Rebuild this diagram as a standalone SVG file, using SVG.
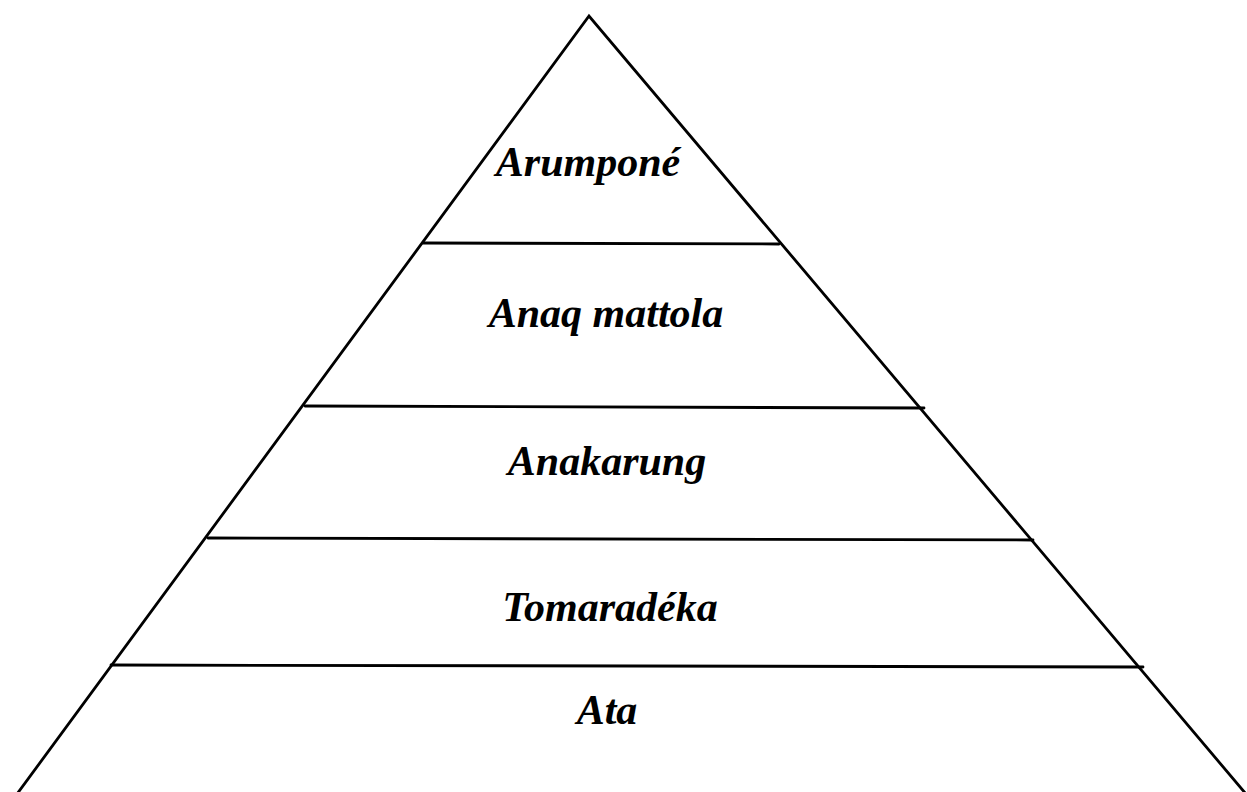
<svg xmlns="http://www.w3.org/2000/svg" width="1247" height="792" viewBox="0 0 1247 792">
<style>
.edge{stroke:#000;stroke-width:2.8;fill:none;stroke-linecap:round}
.lbl{font-family:"Liberation Serif","Times New Roman",serif;font-weight:bold;font-style:italic;font-size:42px;fill:#000;text-anchor:middle}
</style>
<rect width="1247" height="792" fill="#fff"/>
<g id="connectors">
<polyline class="edge" points="17,794 589,16 1246,794"/>
<line class="edge" x1="423" y1="243" x2="779" y2="244"/>
<line class="edge" x1="305" y1="406" x2="924" y2="408"/>
<line class="edge" x1="208" y1="538" x2="1033" y2="540"/>
<line class="edge" x1="111" y1="665" x2="1143" y2="667"/>
</g>
<g id="level1"><text class="lbl" x="588" y="176">Arumponé</text></g>
<g id="level2"><text class="lbl" x="606" y="327">Anaq mattola</text></g>
<g id="level3"><text class="lbl" x="607" y="475">Anakarung</text></g>
<g id="level4"><text class="lbl" x="610" y="621">Tomaradéka</text></g>
<g id="level5"><text class="lbl" x="607" y="724">Ata</text></g>
</svg>
